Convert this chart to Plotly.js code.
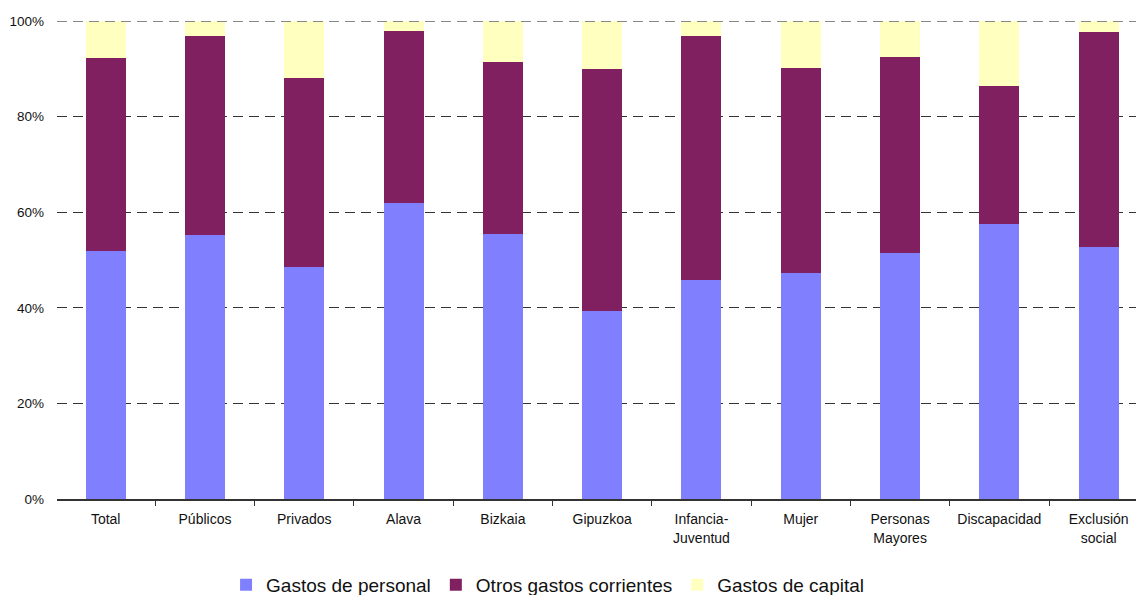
<!DOCTYPE html>
<html>
<head>
<meta charset="utf-8">
<script src="https://cdn.plot.ly/plotly-3.0.1.min.js"></script>
<style>html,body{margin:0;padding:0;background:#fff;}#chart{width:1136px;height:595px;}</style>
</head>
<body>
<div id="chart"></div>
<script>
const categories = ["Total","Públicos","Privados","Alava","Bizkaia","Gipuzkoa","Infancia-<br>Juventud","Mujer","Personas<br>Mayores","Discapacidad","Exclusión<br>social"];
const gastosPersonal = [51.9,55.3,48.6,61.9,55.5,39.4,45.8,47.3,51.5,57.6,52.7];
const otrosGastos = [40.4,41.6,39.5,36.0,35.9,50.6,51.1,42.9,41.0,28.8,45.0];
const gastosCapital = [7.7,3.1,11.9,2.1,8.6,10.0,3.1,9.8,7.5,13.6,2.3];
const seriesNames = ["Gastos de personal","Otros gastos corrientes","Gastos de capital"];
const seriesColors = ["#8080FF","#802060","#FFFFC0"];
const yTicks = [0,20,40,60,80,100];

const values = [gastosPersonal, otrosGastos, gastosCapital];
const data = values.map((v,i)=>({
  type:'bar', x:categories, y:v, name:seriesNames[i],
  marker:{color:seriesColors[i], line:{width:0}}
}));

const layout = {
  width:1136, height:595,
  margin:{l:57, r:0, t:21, b:96, pad:0, autoexpand:false},
  barmode:'stack', bargap:0.597,
  paper_bgcolor:'#fff', plot_bgcolor:'#fff',
  font:{family:'Liberation Sans, Arial, sans-serif', color:'#111'},
  showlegend:true,
  legend:{orientation:'h', x:0.482, xref:'container', xanchor:'center', y:0.017, yref:'container', yanchor:'middle',
          font:{size:19, color:'#111'}, traceorder:'normal', itemwidth:30},
  xaxis:{type:'category', range:[-0.49,10.376], tickson:'boundaries', automargin:false,
         ticks:'outside', ticklen:5, tickcolor:'#333', showline:true, linecolor:'#333', linewidth:1.5,
         tickfont:{size:14, color:'#111'}, showgrid:false, fixedrange:true, ticklabelstandoff:7},
  yaxis:{range:[0,100], tickvals:yTicks, ticktext:yTicks.map(t=>t+'%'), showline:false, automargin:false,
         showgrid:true, gridcolor:'#333', gridwidth:1, griddash:'10px,6px', zeroline:false,
         tickfont:{size:13.5, color:'#111'}, ticks:'', ticklabelstandoff:12},
  shapes:[{type:'line', xref:'paper', yref:'y', x0:0, x1:1, y0:100, y1:100,
           line:{color:'#888', width:2, dash:'10px,6px'}}]
};
Plotly.newPlot('chart', data, layout, {displayModeBar:false, staticPlot:true});
</script>
</body>
</html>
